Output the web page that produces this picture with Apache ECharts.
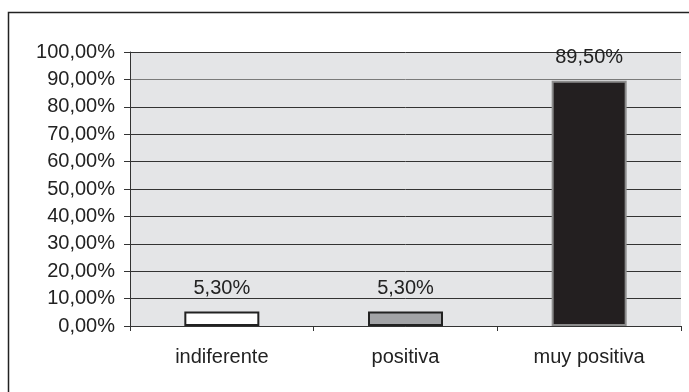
<!DOCTYPE html>
<html>
<head>
<meta charset="utf-8">
<script src="https://cdn.jsdelivr.net/npm/echarts@6/dist/echarts.min.js"></script>
<style>
  html, body { margin: 0; padding: 0; background: #fff; }
  #chart { width: 689px; height: 392px; }
</style>
</head>
<body>
<div id="chart"></div>
<script>
// Opinion categories and their shares (percent)
const categories = ['indiferente', 'positiva', 'muy positiva'];
const values = [5.3, 5.3, 89.5];
const yTicks = [0, 10, 20, 30, 40, 50, 60, 70, 80, 90, 100];

const fills = ['#ffffff', '#a2a3a6', '#231f20'];
const borders = ['#222222', '#222222', '#8c8c8c'];

const fmt = v => v.toFixed(2).replace('.', ',') + '%';
const font = '"Liberation Sans", Arial, sans-serif';
const fs = 20;

const chart = echarts.init(document.getElementById('chart'), null, { renderer: 'canvas' });

chart.setOption({
  animation: false,
  backgroundColor: '#ffffff',
  graphic: [{
    type: 'rect',
    shape: { x: 8.5, y: 12.5, width: 700, height: 400 },
    style: { fill: 'none', stroke: '#222', lineWidth: 1.5 },
    silent: true
  }],
  grid: {
    left: 130, right: 8, top: 52, bottom: 66,
    show: true, backgroundColor: '#e4e5e7', borderWidth: 0
  },
  xAxis: {
    type: 'category',
    data: categories,
    axisLine: { show: true, lineStyle: { color: '#333', width: 1 } },
    axisTick: { show: true, alignWithLabel: false, length: 5, lineStyle: { color: '#333' } },
    axisLabel: { color: '#222', fontSize: fs, fontFamily: font, margin: 21 },
    splitLine: { show: false }
  },
  yAxis: {
    type: 'value',
    min: yTicks[0], max: yTicks[yTicks.length - 1], interval: 10,
    axisLine: { show: true, lineStyle: { color: '#333', width: 1 } },
    axisTick: { show: true, inside: false, length: 6, lineStyle: { color: '#333' } },
    axisLabel: { color: '#222', fontSize: fs, fontFamily: font, margin: 15, formatter: v => fmt(v) },
    splitLine: {
      show: true,
      lineStyle: {
        width: 1,
        color: ['#333', '#333', '#333', '#333', '#333', '#333', '#333', '#333', '#333', '#7a7a7a', '#333']
      }
    }
  },
  series: [{
    type: 'bar',
    barWidth: 75,
    data: values.map((v, i) => ({
      value: v,
      itemStyle: { color: fills[i], borderColor: borders[i], borderWidth: 2 }
    })),
    label: {
      show: true,
      position: 'top',
      distance: 13,
      color: '#222',
      fontSize: fs,
      fontFamily: font,
      formatter: p => fmt(p.value)
    }
  }]
});
</script>
</body>
</html>
